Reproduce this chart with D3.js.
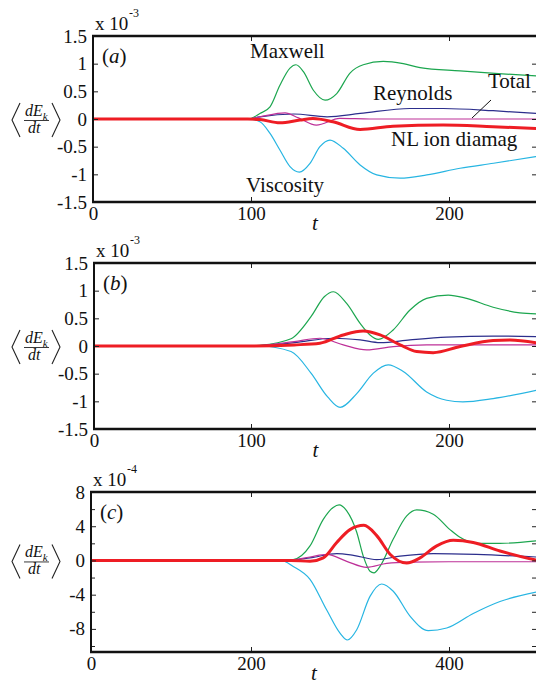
<!DOCTYPE html>
<html>
<head>
<meta charset="utf-8">
<script src="https://cdn.jsdelivr.net/npm/d3@7.9.0/dist/d3.min.js"></script>
<style>
  html, body { margin: 0; padding: 0; background: #fff; }
  svg, svg text { font-family: "Liberation Serif", "DejaVu Serif", "Times New Roman", serif; }
</style>
</head>
<body>
<svg id="chart" width="536" height="686"></svg>
<script>
// ---- data: [t, value] pairs ----
// panel (a), units of 1e-3
const maxwellA   = [[0,0],[98,0],[104.5,0.10],[109.6,0.22],[114.6,0.61],[119.7,0.92],[122.7,0.98],[126.4,0.86],[131.5,0.52],[137.4,0.34],[143.3,0.46],[150,0.83],[156.7,0.98],[166.8,1.04],[176.9,1.0],[185.4,0.93],[205.6,0.87],[225,0.82],[244,0.78]];
const viscosityA = [[0,0],[98,0],[104.5,-0.05],[109.6,-0.26],[114.6,-0.56],[119.7,-0.86],[124.4,-0.96],[129.8,-0.80],[134.8,-0.50],[139.9,-0.38],[146.6,-0.53],[155.1,-0.83],[163.5,-1.01],[175.3,-1.07],[188.8,-1.01],[205.6,-0.89],[222.5,-0.80],[244,-0.68]];
const reynoldsA  = [[0,0],[98,0],[104.5,0.04],[121.6,0.09],[138.4,0.04],[155.1,0.10],[180.3,0.19],[197.1,0.19],[222.3,0.15],[244,0.10]];
const totalA     = [[0,0],[98,0],[104.5,0.04],[117.2,0.11],[124,0.02],[133,-0.11],[144.9,0.01],[160,0.0],[244,0.0]];
const diamagA    = [[0,0],[98,0],[104.5,-0.01],[114.6,-0.07],[124.7,-0.02],[131.3,0.01],[141.4,-0.05],[155.1,-0.19],[171.7,-0.13],[197,-0.11],[222.2,-0.14],[244,-0.17]];

// panel (b), units of 1e-3
const maxwellB   = [[0,0],[100,0],[104.5,0.01],[120.2,0.13],[130.3,0.53],[137,0.89],[141.6,0.98],[148.3,0.77],[155.1,0.41],[160.1,0.2],[164.3,0.12],[171.8,0.29],[180.3,0.65],[188.7,0.86],[199.6,0.92],[208.9,0.86],[222.3,0.70],[235.8,0.60],[244,0.58]];
const viscosityB = [[0,0],[100,0],[104.5,0],[120.2,-0.10],[130.3,-0.49],[138.7,-0.92],[145.0,-1.11],[153.4,-0.86],[161.8,-0.49],[169.3,-0.34],[176.9,-0.46],[188.7,-0.83],[198.8,-0.98],[207,-1.01],[222.3,-0.95],[244,-0.80]];
const reynoldsB  = [[0,0],[100,0],[121.8,0.06],[141.6,0.14],[155.1,0.11],[165.2,0.06],[180.3,0.11],[198.8,0.16],[222.3,0.18],[244,0.17]];
const totalB     = [[0,0],[100,0],[121.8,0.08],[134.8,0.14],[146.6,0.02],[158.4,-0.07],[171.8,-0.01],[188.7,0.02],[244,0.02]];
const diamagB    = [[0,0],[100,0],[121.8,0.02],[134.8,0.05],[146.6,0.2],[156.7,0.27],[165.2,0.2],[175.3,0.02],[183.7,-0.10],[192,-0.12],[205.6,-0.01],[222.3,0.10],[230.8,0.11],[244,0.06]];

// panel (c), units of 1e-4
const maxwellC   = [[0,0],[230,0],[242.7,0.1],[259.6,1.7],[273,4.8],[283,6.2],[289,6.5],[296.7,5.8],[306.8,3.3],[313.4,0.5],[320.2,-1.26],[324.2,-1.45],[330.3,-0.7],[343.7,2.5],[357.3,5.2],[367.4,5.9],[384.1,5.4],[401,3.6],[411.1,2.7],[427.9,2.0],[451.5,2.0],[488,2.3]];
const viscosityC = [[0,0],[230,0],[242.7,-0.7],[259.6,-2.2],[276.5,-5.8],[289.9,-8.5],[297.3,-9.3],[306.8,-8.1],[320.2,-4.2],[332,-2.75],[343.7,-3.6],[360.6,-6.5],[379.1,-8.2],[397.7,-7.9],[424.5,-6.2],[451.5,-4.8],[488,-3.7]];
const reynoldsC  = [[0,0],[235,0],[259.6,0.3],[286.6,0.8],[303.4,0.6],[327,0.1],[350.5,0.5],[384,0.8],[427.9,0.7],[488,0.4]];
const totalC     = [[0,0],[235,0],[259.6,0.4],[276.5,0.7],[296.7,-0.1],[316.9,-0.8],[337.1,-0.35],[360.6,-0.2],[400,-0.15],[488,-0.15]];
const diamagC    = [[0,0],[240,0],[259.6,-0.1],[273,0.3],[286.6,2.1],[300,3.6],[314,4.1],[327,2.9],[340.7,0.7],[357.3,-0.3],[370.7,0.3],[387.6,1.7],[404.3,2.35],[424.5,2.1],[451.5,1.1],[488,0.04]];

const yTicksAB = [-1.5, -1, -0.5, 0, 0.5, 1, 1.5];
const yTicksC = [-8, -4, 0, 4, 8];
const yMinorC = [-10, -6, -2, 2, 6];
const xTicksAB = [0, 100, 200];
const xTicksC = [0, 200, 400];

const colors = {
  maxwell: "#1ca64f",
  viscosity: "#27b5e2",
  reynolds: "#2c2e8c",
  total: "#bd3098",
  diamag: "#ee1d24"
};

const serif = '"Liberation Serif", "DejaVu Serif", "Times New Roman", serif';

const panels = [
  { tag: "a", exp: "-3", top: 36, bottom: 202, left: 93,
    xDomain: [0, 100, 200], xRange: [93, 251, 449], xTicks: xTicksAB,
    yDomain: [-1.5, 1.5], yTicks: yTicksAB, yMinor: [],
    series: { maxwell: maxwellA, viscosity: viscosityA, reynolds: reynoldsA, total: totalA, diamag: diamagA } },
  { tag: "b", exp: "-3", top: 263, bottom: 429, left: 94,
    xDomain: [0, 100, 200], xRange: [94, 251, 449], xTicks: xTicksAB,
    yDomain: [-1.5, 1.5], yTicks: yTicksAB, yMinor: [],
    series: { maxwell: maxwellB, viscosity: viscosityB, reynolds: reynoldsB, total: totalB, diamag: diamagB } },
  { tag: "c", exp: "-4", top: 492, bottom: 652, left: 91,
    xDomain: [0, 200, 400], xRange: [91, 251, 449], xTicks: xTicksC,
    yDomain: [-10.7, 8], yTicks: yTicksC, yMinor: yMinorC,
    series: { maxwell: maxwellC, viscosity: viscosityC, reynolds: reynoldsC, total: totalC, diamag: diamagC } }
];

const right = 537;
const svg = d3.select("#chart");
const order = ["maxwell", "viscosity", "reynolds", "total", "diamag"];

panels.forEach((p) => {
  const x = d3.scaleLinear().domain(p.xDomain).range(p.xRange);
  const y = d3.scaleLinear().domain(p.yDomain).range([p.bottom, p.top]);
  const g = svg.append("g");

  const clipId = "clip-" + p.tag;
  svg.append("clipPath").attr("id", clipId)
    .append("rect")
    .attr("x", p.left).attr("y", p.top)
    .attr("width", right - p.left).attr("height", p.bottom - p.top);

  // curves
  const line = d3.line()
    .x(d => x(d[0]))
    .y(d => y(d[1]))
    .curve(d3.curveMonotoneX);

  const lines = g.append("g").attr("clip-path", `url(#${clipId})`);
  order.forEach(k => {
    lines.append("path")
      .datum(p.series[k])
      .attr("d", line)
      .attr("fill", "none")
      .attr("stroke", colors[k])
      .attr("stroke-width", k === "diamag" ? 3 : 1.2)
      .attr("stroke-linejoin", "round");
  });

  // axes (inward ticks, matlab style)
  const fmt = d => String(d);
  const yAxis = g.append("g")
    .attr("transform", `translate(${p.left},0)`)
    .call(d3.axisLeft(y).tickValues(p.yTicks).tickSize(-5).tickSizeOuter(0).tickPadding(6).tickFormat(fmt));
  yAxis.append("g").call(d3.axisLeft(y).tickValues(p.yMinor).tickSize(-4).tickSizeOuter(0).tickFormat(""));

  const yAxisR = g.append("g")
    .attr("transform", `translate(${right},0)`)
    .call(d3.axisRight(y).tickValues(p.yTicks.concat(p.yMinor)).tickSize(-5).tickSizeOuter(0).tickFormat(""));

  const xAxis = g.append("g")
    .attr("transform", `translate(0,${p.bottom})`)
    .call(d3.axisBottom(x).tickValues(p.xTicks).tickSize(-5).tickSizeOuter(0).tickPadding(5).tickFormat(fmt));
  const xAxisT = g.append("g")
    .attr("transform", `translate(0,${p.top})`)
    .call(d3.axisTop(x).tickValues(p.xTicks).tickSize(-5).tickSizeOuter(0).tickFormat(""));

  [yAxis, yAxisR, xAxis, xAxisT].forEach(a => {
    a.attr("font-family", serif).attr("font-size", null);
    a.selectAll(".domain").remove();
    a.selectAll("line").attr("stroke", "#222").attr("stroke-width", 1);
    a.selectAll("text").attr("fill", "#111").style("font-family", serif).style("font-size", "19px");
  });

  // frame
  g.append("line").attr("x1", p.left - 1).attr("x2", right + 1).attr("y1", p.top).attr("y2", p.top)
    .attr("stroke", "#111").attr("stroke-width", 2.6);
  g.append("line").attr("x1", p.left - 1).attr("x2", right + 1).attr("y1", p.bottom).attr("y2", p.bottom)
    .attr("stroke", "#111").attr("stroke-width", 2.6);
  g.append("line").attr("x1", p.left).attr("x2", p.left).attr("y1", p.top).attr("y2", p.bottom)
    .attr("stroke", "#111").attr("stroke-width", 2);
  g.append("line").attr("x1", right).attr("x2", right).attr("y1", p.top).attr("y2", p.bottom)
    .attr("stroke", "#111").attr("stroke-width", 2);

  // exponent label
  g.append("text").attr("x", p.left + 2).attr("y", p.top - 6)
    .style("font-family", serif).style("font-size", "19px").attr("fill", "#111").text("x 10");
  g.append("text").attr("x", p.left + 36).attr("y", p.top - 19)
    .style("font-family", serif).style("font-size", "12px").attr("fill", "#111").text(p.exp);

  // panel tag
  const tag = g.append("text").attr("x", p.left + 9).attr("y", p.top + 27)
    .style("font-family", serif).style("font-size", "21px").attr("fill", "#111");
  tag.append("tspan").text("(");
  tag.append("tspan").style("font-style", "italic").text(p.tag);
  tag.append("tspan").text(")");

  // x label
  g.append("text").attr("x", (p.left + right) / 2).attr("y", p.bottom + 28)
    .attr("text-anchor", "middle").style("font-family", serif).style("font-size", "21px").style("font-style", "italic")
    .attr("fill", "#111").text("t");

  // y label  <dE_k/dt>
  const y0 = y(0);
  const lab = g.append("g").attr("transform", `translate(0,${y0})`);
  lab.append("path").attr("d", "M20,-16 L12,1 L20,18").attr("fill", "none").attr("stroke", "#222").attr("stroke-width", 1.1);
  lab.append("path").attr("d", "M52,-16 L60,1 L52,18").attr("fill", "none").attr("stroke", "#222").attr("stroke-width", 1.1);
  const num = lab.append("text").attr("x", 25).attr("y", -3).style("font-family", serif).style("font-size", "16px").style("font-style", "italic").attr("fill", "#111");
  num.append("tspan").text("dE");
  num.append("tspan").attr("dy", 4).style("font-size", "11px").text("k");
  lab.append("line").attr("x1", 24).attr("x2", 49).attr("y1", 1.5).attr("y2", 1.5).attr("stroke", "#222").attr("stroke-width", 0.9);
  lab.append("text").attr("x", 28).attr("y", 14).style("font-family", serif).style("font-size", "16px").style("font-style", "italic")
    .attr("fill", "#111").text("dt");

  // annotations on panel (a)
  if (p.tag === "a") {
    const notes = [
      { text: "Maxwell", x: 250, y: 58 },
      { text: "Viscosity", x: 246, y: 192 },
      { text: "Reynolds", x: 373, y: 100 },
      { text: "Total", x: 488, y: 88 },
      { text: "NL ion diamag", x: 391, y: 146 }
    ];
    g.selectAll(".note").data(notes).enter().append("text")
      .attr("class", "note")
      .attr("x", d => d.x).attr("y", d => d.y)
      .style("font-family", serif).style("font-size", "21px").attr("fill", "#111")
      .text(d => d.text);
    g.append("line").attr("x1", 491).attr("y1", 100).attr("x2", 472).attr("y2", 118)
      .attr("stroke", "#111").attr("stroke-width", 1);
  }
});
</script>
</body>
</html>
